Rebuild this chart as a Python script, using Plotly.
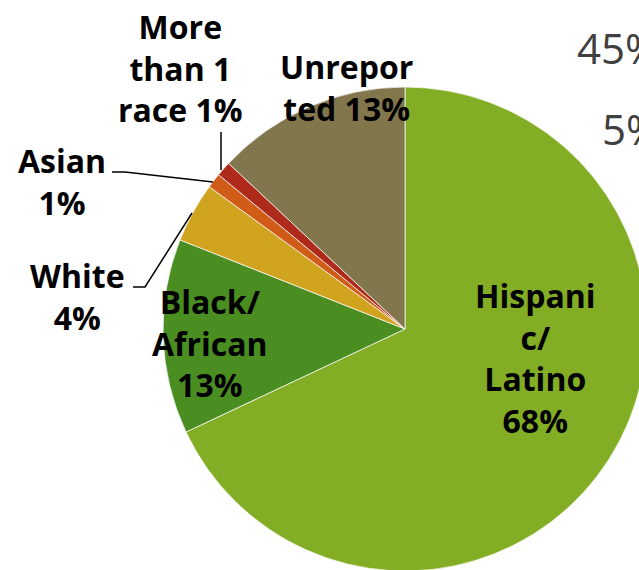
import plotly.graph_objects as go

# ---- data ----
categories = ["Hispanic/Latino", "Black/African", "White", "Asian",
              "More than 1 race", "Unreported"]
display_names = ["Hispani<br>c/<br>Latino", "Black/<br>African", "White", "Asian",
                 "More<br>than 1<br>race", "Unrepor<br>ted"]
values = [68, 13, 4, 1, 1, 13]
side_numbers = ["45%", "5%"]  # partial text cut off at the right edge

colors = ["#82AD24", "#4A8E21", "#D0A41F", "#D05C17", "#AE2A1A", "#82764D"]

W, H = 660, 580


def px(x, y):
    return x / W, 1 - y / H


cx, cy, r = 405, 329, 242
x0, y1 = px(cx - r, cy - r)
x1, y0 = px(cx + r, cy + r)

fig = go.Figure(go.Pie(
    labels=categories,
    values=values,
    sort=False,
    direction="clockwise",
    rotation=0,
    textinfo="none",
    hoverinfo="label+percent",
    marker=dict(colors=colors, line=dict(color="rgba(255,255,255,0.7)", width=1)),
    domain=dict(x=[x0, x1], y=[y0, y1]),
    showlegend=False,
))

total = sum(values)
pct = [f"{round(v * 100 / total)}%" for v in values]

# label text built from data; percentage on its own line or appended
same_line = {4, 5}
label_texts = []
for i, name in enumerate(display_names):
    sep = " " if i in same_line else "<br>"
    label_texts.append(f"{name}{sep}{pct[i]}")

label_pos = [(535, 358), (210, 343), (77, 296), (62, 181), (180, 68), (346, 87)]

annotations = []
for txt, (lx, ly) in zip(label_texts, label_pos):
    ax, ay = px(lx, ly)
    annotations.append(dict(
        x=ax, y=ay, xref="paper", yref="paper", text=txt, showarrow=False,
        xanchor="center", yanchor="middle", align="center",
        font=dict(family="Open Sans", size=32, color="#000000", weight="bold"),
    ))

for txt, (lx, ly) in zip(side_numbers, [(575, 47), (600, 128)]):
    ax, ay = px(lx, ly)
    annotations.append(dict(
        x=ax, y=ay, xref="paper", yref="paper", text=txt, showarrow=False,
        xanchor="left", yanchor="middle",
        font=dict(family="Open Sans", size=42, color="#404040"),
    ))


def path(points):
    d = ""
    for i, (x, y) in enumerate(points):
        X, Y = px(x, y)
        d += ("M" if i == 0 else "L") + f"{X:.5f},{Y:.5f} "
    return d


leaders = [
    [(133, 287), (145, 287), (192, 213)],
    [(112, 172), (125, 172), (213, 182)],
    [(221, 132), (221, 170)],
]
shapes = [dict(type="path", xref="paper", yref="paper", path=path(p),
               line=dict(color="#000000", width=1.5)) for p in leaders]

fig.update_layout(
    width=W, height=H,
    margin=dict(l=0, r=0, t=0, b=0),
    paper_bgcolor="white",
    plot_bgcolor="white",
    annotations=annotations,
    shapes=shapes,
)

fig.write_html("out.html",
               config={"displayModeBar": False},
               post_script="document.body.style.margin='0';document.body.style.overflow='hidden';document.documentElement.style.overflow='hidden';")
